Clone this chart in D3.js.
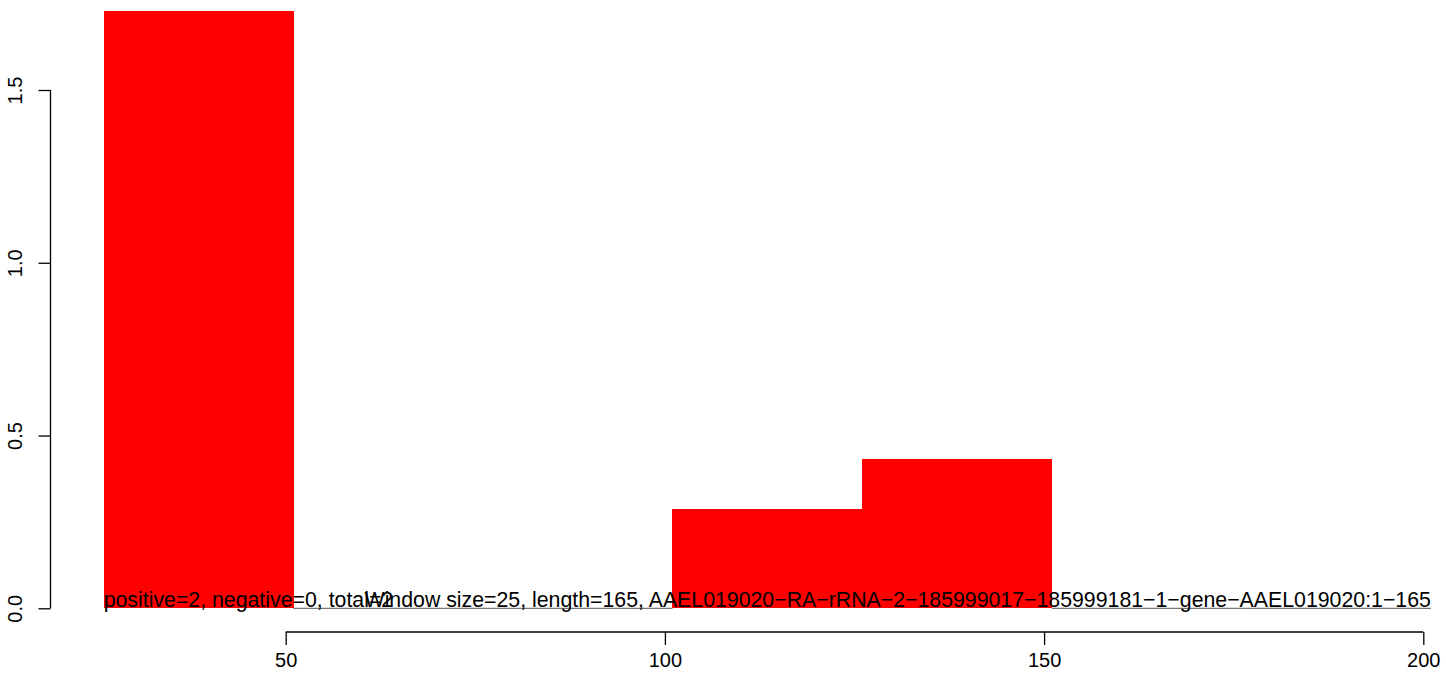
<!DOCTYPE html>
<html>
<head>
<meta charset="utf-8">
<script src="https://cdn.jsdelivr.net/npm/d3@7"></script>
<style>
  html, body { margin: 0; padding: 0; background: #fff; }
  svg { display: block; font-family: "Liberation Sans", Arial, Helvetica, sans-serif; }
</style>
</head>
<body>
<svg id="chart" width="1446" height="683"></svg>
<script>
// ---- data ----
const windowStarts = [26, 51, 76, 101, 126, 151, 176];
const windowSize = 25;
const values = [1.729, 0, 0, 0.287, 0.432, 0, 0];
const xTicks = [50, 100, 150, 200];
const yTicks = [0, 0.5, 1.0, 1.5];
const leftLabel = "positive=2, negative=0, total=2";
const rightLabel = "Window size=25, length=165, AAEL019020\u2212RA\u2212rRNA\u22122\u2212185999017\u2212185999181\u22121\u2212gene\u2212AAEL019020:1\u2212165";

const svg = d3.select("#chart");
const x = d3.scaleLinear().domain([50, 200]).range([285.7, 1423.3]);
const y = d3.scaleLinear().domain([0, 1.5]).range([608.3, 90]);

const bars = windowStarts.map((s, i) => ({ start: s, end: s + windowSize, v: values[i] }));

// bars
svg.append("g").attr("shape-rendering", "crispEdges")
  .selectAll("rect").data(bars.filter(d => d.v > 0)).join("rect")
  .attr("x", d => x(d.start))
  .attr("width", d => x(d.end) - x(d.start) + 0.5)
  .attr("y", d => y(d.v))
  .attr("height", d => y(0) - y(d.v))
  .attr("fill", "#ff0000");

// zero-height windows drawn as baseline
svg.append("g").selectAll("line").data(bars.filter(d => d.v === 0)).join("line")
  .attr("x1", d => x(d.start)).attr("x2", d => x(d.end))
  .attr("y1", y(0)).attr("y2", y(0))
  .attr("stroke", "#555").attr("stroke-width", 1);

// labels
const first = bars[0], last = bars[bars.length - 1];
svg.append("text").attr("x", x(first.start)).attr("y", y(0) - 1)
  .attr("font-size", 21.3).attr("fill", "#000").text(leftLabel);
svg.append("text").attr("x", x(last.end)).attr("y", y(0) - 1)
  .attr("text-anchor", "end")
  .attr("font-size", 21.3).attr("fill", "#000").text(rightLabel);

// x axis
const xAxis = d3.axisBottom(x).tickValues(xTicks).tickSize(13).tickPadding(8).tickFormat(d3.format("d"));
const gx = svg.append("g").attr("transform", "translate(0,632)").call(xAxis);
gx.select(".domain").attr("d", `M${x(xTicks[0])},0H${x(xTicks[xTicks.length-1])}`);
gx.selectAll("text").attr("font-size", 20).attr("font-family", null).attr("fill", "#000");
gx.selectAll("line, path").attr("stroke", "#000").attr("stroke-width", 1.3);

// y axis
const yAxis = d3.axisLeft(y).tickValues(yTicks).tickSize(12).tickFormat(d3.format(".1f"));
const gy = svg.append("g").attr("transform", "translate(50.5,0)").call(yAxis);
gy.select(".domain").attr("d", `M0,${y(yTicks[0])}V${y(yTicks[yTicks.length-1])}`);
gy.selectAll("line, path").attr("stroke", "#000").attr("stroke-width", 1.3);
gy.selectAll(".tick text")
  .attr("font-size", 20).attr("font-family", null).attr("fill", "#000")
  .attr("x", null).attr("dy", null)
  .attr("text-anchor", "middle")
  .attr("transform", "translate(-29,0) rotate(-90)");
</script>
</body>
</html>
